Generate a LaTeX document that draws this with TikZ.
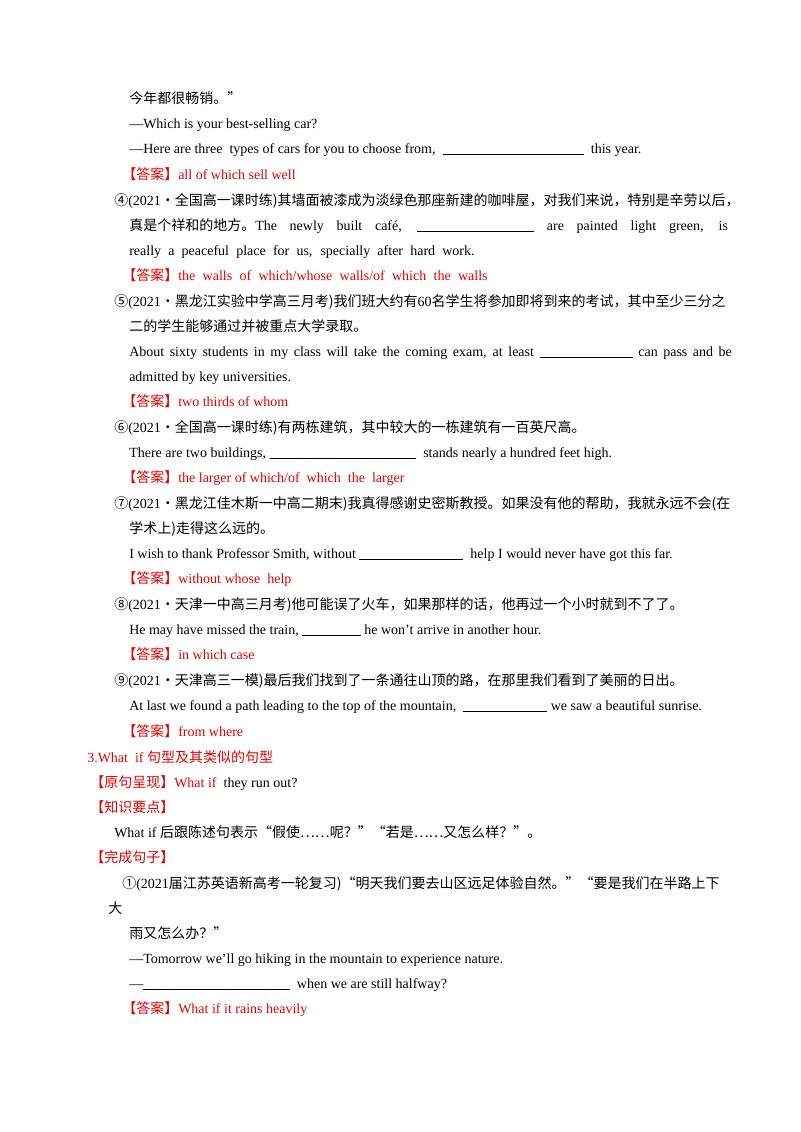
\documentclass[tikz,border=0pt]{standalone}
\usepackage{fontspec}
\setmainfont{Liberation Serif}
\newfontfamily\zhf{Noto Sans CJK SC}
\newcommand\zh[1]{{\zhf #1}}
\newcommand\ul[1]{\rule[-1.5pt]{#1pt}{0.4pt}}
\definecolor{ans}{RGB}{230,0,0}
\begin{document}
\begin{tikzpicture}[x=0.75pt,y=-0.75pt,every node/.style={anchor=base west,inner sep=0pt,font=\fontsize{10.5}{12}\selectfont}]
\path[use as bounding box,fill=white] (0,0) rectangle (800,1132);
\newcommand\jl[4]{\node at (#1,#2) {\makebox[#3pt][s]{#4}};}
\node (l1) at (129,103) {\zh{今年都很畅销。”}};
\node (l2) at (129,128) {—Which is your best-selling car?};
\node (l3) at (129,153) {—Here are three\ \ types of cars for you to choose from,\ \ \ul{106}\ \ this year.};
\node[text=ans] (l4) at (122,179) {\zh{【答案】}all of which sell well};
\jl{114}{205}{463}{\zh{④}(2021\zh{·全国高一课时练)其墙面被漆成为淡绿色那座新建的咖啡屋，对我们来说，特别是辛劳以后，}}
\jl{129}{230}{449}{\zh{真是个祥和的地方。}The newly built café, \ul{88} are painted light green, is}
\node (l7) at (129,255) {\makebox[259pt][s]{really a peaceful place for us, specially after hard work.}};
\node[text=ans] (l8) at (122,280) {\makebox[274pt][s]{\zh{【答案】}the walls of which/whose walls/of which the walls}};
\jl{114}{306}{463}{\zh{⑤}(2021\zh{·黑龙江实验中学高三月考)我们班大约有}60\zh{名学生将参加即将到来的考试，其中至少三分之}}
\node (l10) at (129,331) {\zh{二的学生能够通过并被重点大学录取。}};
\jl{129}{356}{452}{About sixty students in my class will take the coming exam, at least \ul{70} can pass and be}
\node (l12) at (129,381) {admitted by key universities.};
\node[text=ans] (l13) at (122,406) {\zh{【答案】}two thirds of whom};
\node (l14) at (114,432) {\zh{⑥}(2021\zh{·全国高一课时练)有两栋建筑，其中较大的一栋建筑有一百英尺高。}};
\node (l15) at (129,457) {There are two buildings, \ul{110}\ \ stands nearly a hundred feet high.};
\node[text=ans] (l16) at (122,482) {\zh{【答案】}the larger of which/of\ \ which\ \ the\ \ larger};
\jl{114}{508}{463}{\zh{⑦}(2021\zh{·黑龙江佳木斯一中高二期末)我真得感谢史密斯教授。如果没有他的帮助，我就永远不会(在}}
\node (l18) at (129,533) {\zh{学术上)走得这么远的。}};
\node (l19) at (129,558) {I wish to thank Professor Smith, without \ul{78}\ \ help I would never have got this far.};
\node[text=ans] (l20) at (122,583) {\zh{【答案】}without whose\ \ help};
\node (l21) at (114,609) {\zh{⑧}(2021\zh{·天津一中高三月考)他可能误了火车，如果那样的话，他再过一个小时就到不了了。}};
\node (l22) at (129,634) {He may have missed the train, \ul{44} he won't arrive in another hour.};
\node[text=ans] (l23) at (122,659) {\zh{【答案】}in which case};
\node (l24) at (114,685) {\zh{⑨}(2021\zh{·天津高三一模)最后我们找到了一条通往山顶的路，在那里我们看到了美丽的日出。}};
\node (l25) at (129,710) {At last we found a path leading to the top of the mountain,\ \ \ul{63} we saw a beautiful sunrise.};
\node[text=ans] (l26) at (122,736) {\zh{【答案】}from where};
\node[text=ans] (l27) at (87,762) {3.What\ \ if \zh{句型及其类似的句型}};
\node (l28) at (90,787) {\textcolor{ans}{\zh{【原句呈现】}What if}\ \ they run out?};
\node[text=ans] (l29) at (90,812) {\zh{【知识要点】}};
\node (l30) at (114,837) {What if \zh{后跟陈述句表示“假使……呢？”“若是……又怎么样？”。}};
\node[text=ans] (l31) at (90,862) {\zh{【完成句子】}};
\jl{122}{888}{455}{\zh{①}(2021\zh{届江苏英语新高考一轮复习)“明天我们要去山区远足体验自然。”“要是我们在半路上下}}
\node (l33) at (108,913) {\zh{大}};
\node (l34) at (129,938) {\zh{雨又怎么办？”}};
\node (l35) at (129,963) {—Tomorrow we'll go hiking in the mountain to experience nature.};
\node (l36) at (129,988) {—\ul{110}\ \ when we are still halfway?};
\node[text=ans] (l37) at (122,1013) {\zh{【答案】}What if it rains heavily};
\end{tikzpicture}
\end{document}
